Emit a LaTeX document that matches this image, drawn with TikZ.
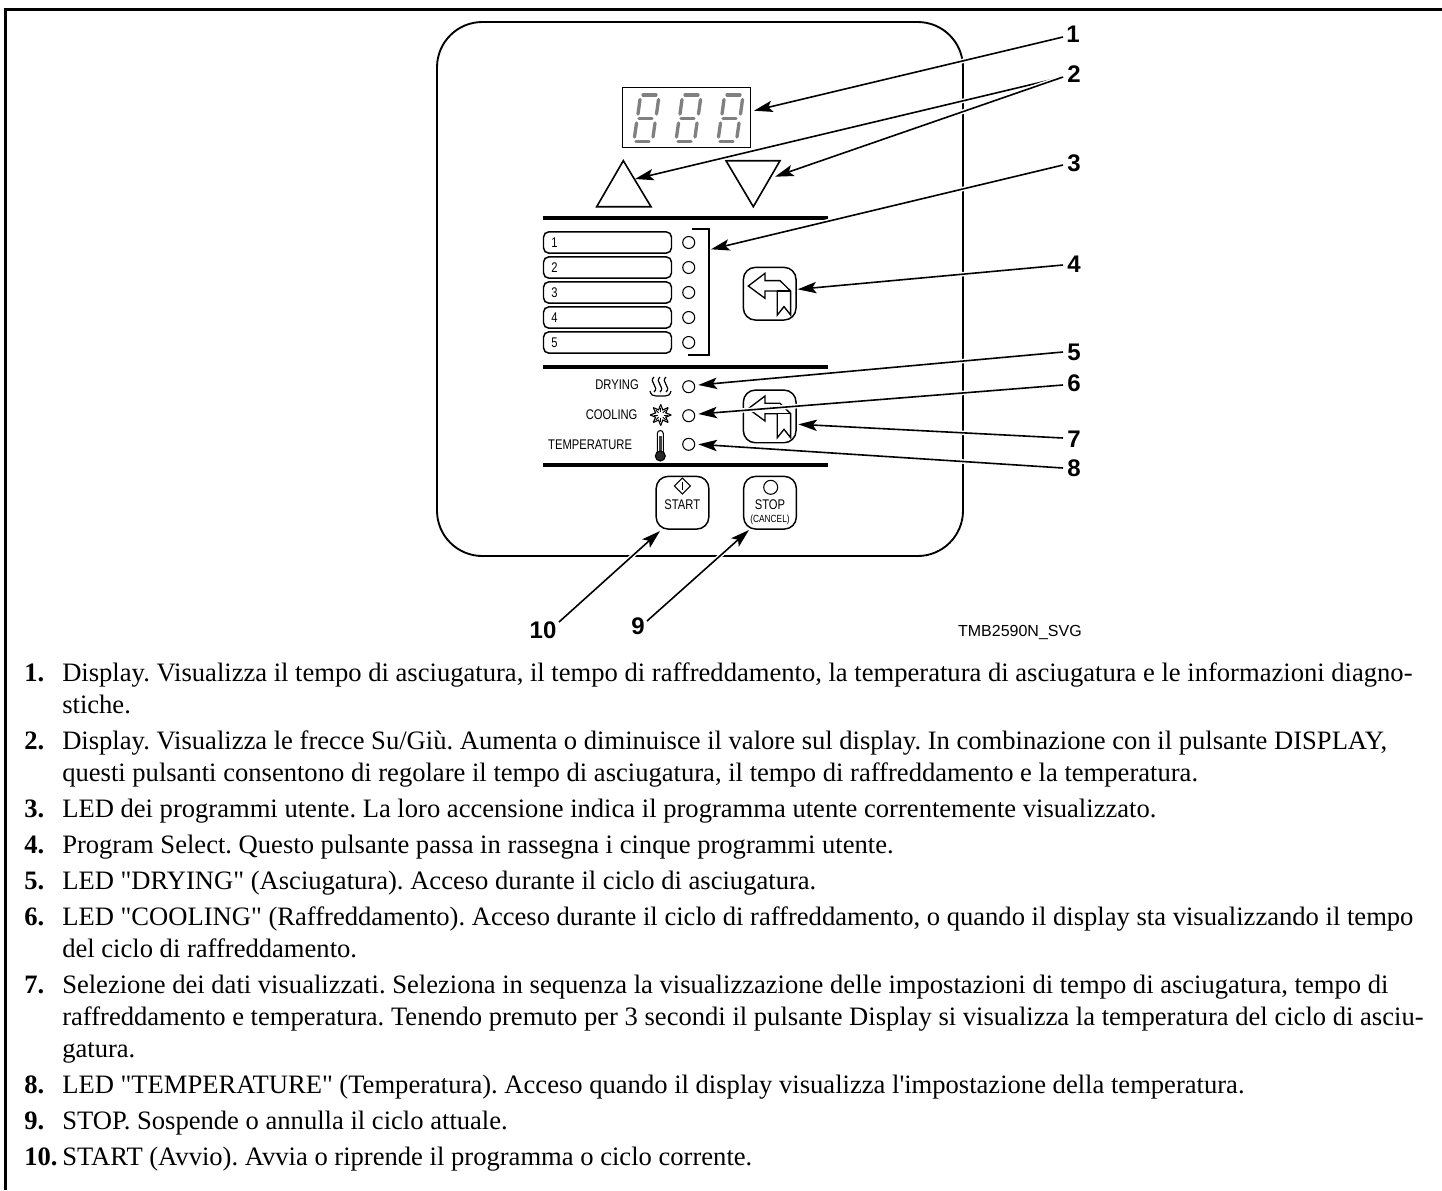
\documentclass[tikz,border=0pt]{standalone}
\usepackage{fontspec}
\usetikzlibrary{arrows.meta,shapes.geometric}
\newfontfamily\bodyf{Liberation Serif}
\newfontfamily\narrowf[FakeStretch=0.8]{Liberation Sans}
\newfontfamily\sansf{Liberation Sans}
\definecolor{seggray}{HTML}{808080}
\tikzset{
  bodytext/.style={anchor=base west,inner sep=0pt,font=\frenchspacing\bodyf\fontsize{19.94}{24}\selectfont},
  bodynum/.style={anchor=base west,inner sep=0pt,font=\frenchspacing\bodyf\bfseries\fontsize{19.94}{24}\selectfont},
  panelsmall/.style={inner sep=0pt,font=\narrowf\fontsize{10.5}{12}\selectfont},
  callout/.style={inner sep=0pt,anchor=west,font=\sansf\bfseries\fontsize{18}{20}\selectfont},
  pillbox/.style={draw,line width=1.1pt,rounded corners=4pt,minimum width=96pt,minimum height=16pt,inner sep=0pt},
  ledc/.style={draw,circle,line width=0.8pt,minimum size=9pt,inner sep=0pt},
  keybox/.style={draw,line width=1.1pt,rounded corners=9pt,minimum width=39.5pt,minimum height=39.5pt,inner sep=0pt},
  thickbar/.style={line width=3pt},
  thinl/.style={line width=0.8pt},
  tri/.style={line width=1.2pt,line join=miter},
  seg/.style={seggray,line width=2.5pt,line cap=round},
  leader/.style={line width=1.2pt,-{Stealth[length=14pt,width=8.5pt,inset=3pt]},
    preaction={draw=white,line width=3.4pt,arrows=-,shorten >=15pt}},
}
\newcommand{\sevenseg}[1]{%
  \begin{scope}[xshift=#1*0.75pt]
    \draw[seg] (14,95)--(27,95);
    \draw[seg] (11,99.5)--(9,114);
    \draw[seg] (29.5,99.5)--(27.5,114);
    \draw[seg] (10,118.5)--(23,118.5);
    \draw[seg] (7.5,123)--(5.5,137);
    \draw[seg] (26,123)--(24,137);
    \draw[seg] (7,141.5)--(20,141.5);
  \end{scope}}
\newcommand{\bookicon}[2]{%
  \begin{scope}[shift={(#1,#2)}]
    \draw[line width=1pt,line join=miter] (5,18.7)--(21.7,6)--(21.7,13.3)--(36.7,13.3)--(47.3,23.7)--(47.3,47.7)--(40.7,39.3)--(34,47.7)--(34,23.7)--(21.7,23.7)--(21.7,31)--cycle;
    \draw[line width=1pt] (34,23.7)--(47.3,23.7);
  \end{scope}}
\begin{document}
\begin{tikzpicture}[x=0.75pt,y=-0.75pt]
\useasboundingbox (0,0) rectangle (1442,1190);
% outer frame
\draw[line width=2.4pt] (5.6,1190)--(5.6,9.4)--(1442,9.4);
% panel
\draw[line width=1.4pt,rounded corners=34pt] (437,22) rectangle (963,556);
% display
\node[draw,line width=0.9pt,minimum width=96.5pt,minimum height=45.5pt,inner sep=0pt] (disp) at (686.5,117.5) {};
\sevenseg{629}\sevenseg{671}\sevenseg{713}
% triangles
\draw[tri] (623.3,160.7)--(651,206.7)--(596.7,206.7)--cycle;
\draw[tri] (726,160.7)--(780,160.7)--(753.3,206.7)--cycle;
% bars
\draw[thickbar] (543,218.3)--(828,218.3);
\draw[thickbar] (543,367)--(828,367);
\draw[thickbar] (543,465)--(828,465);
% program rows
\foreach \n/\yy in {1/242.5,2/267.5,3/292.5,4/317.5,5/342.5}{
  \node[pillbox] (pill\n) at (607.5,\yy) {};
  \node[panelsmall] (pilltxt\n) at (554.5,\yy) {\n};
  \node[ledc] (led\n) at (688.7,\yy) {};
}
\draw[thinl] (692,229)--(709,229)--(709,355)--(688,355);
% key 4 and 7
\node[keybox] (key4) at (769.7,293.7) {};
\bookicon{743.3}{267.3}
\node[keybox] (key7) at (769.7,416.4) {};
\bookicon{743.3}{390}
% status rows
\node[panelsmall,anchor=east] (tdry) at (639,385) {DRYING};
\node[panelsmall,anchor=east] (tcool) at (637.7,415) {COOLING};
\node[panelsmall,anchor=east] (ttemp) at (632.3,445) {TEMPERATURE};
\node[ledc] (ledd) at (688.7,386.7) {};
\node[ledc] (ledc) at (688.7,415.7) {};
\node[ledc] (ledt) at (688.7,444.3) {};
% heat icon
\foreach \xx in {654,660,666}{
  \draw[line width=0.9pt] (\xx,377) .. controls (\xx-6,382) and (\xx+6,387) .. (\xx,392);
}
\draw[line width=0.9pt] (650,391) .. controls (651,395) and (653,396) .. (656,396) -- (665,396) .. controls (668,396) and (670,395) .. (671,391);
% snow icon
\begin{scope}[shift={(660.7,415)}]
\foreach \a in {0,45,...,315}{
  \draw[line width=0.85pt] (\a:10.5) -- (\a+22.5:5.5) -- (\a+45:10.5);
  \draw[line width=0.7pt] (\a:3) -- (\a:7);
}
\end{scope}
% thermometer
\draw[line width=0.8pt,fill=white] (657.3,453)--(657.3,433.5) arc[start angle=180,end angle=360,radius=3] --(663.3,453);
\fill[black!75] (658.8,436) rectangle (661.8,453);
\draw[line width=0.8pt,fill=black!85] (660.3,456) circle (5);
% start/stop
\node[keybox] (start) at (682.5,502.7) {};
\node[keybox] (stop) at (770,502.7) {};
\draw[line width=0.8pt] (682.3,478)--(690.3,486)--(682.3,494)--(674.3,486)--cycle;
\draw[line width=0.8pt] (682.3,482)--(682.3,490);
\node[panelsmall] (starttxt) at (682.3,505) {START};
\draw[line width=0.8pt] (770.7,487.3) circle (7);
\node[panelsmall] (stoptxt) at (770,505) {STOP};
\node[inner sep=0pt,font=\narrowf\fontsize{7.8}{9}\selectfont] (canceltxt) at (770,519.3) {(CANCEL)};
% callouts
\node[callout] (c1) at (1066,34) {1};
\node[callout] (c2) at (1067,74.5) {2};
\node[callout] (c3) at (1067,163) {3};
\node[callout] (c4) at (1067,264) {4};
\node[callout] (c5) at (1067,352) {5};
\node[callout] (c6) at (1067,383) {6};
\node[callout] (c7) at (1067,439) {7};
\node[callout] (c8) at (1067,468) {8};
\node[callout,anchor=center] (c10) at (543,630) {10};
\node[callout,anchor=center] (c9) at (638,626.5) {9};
\node[inner sep=0pt,anchor=east,font=\sansf\fontsize{12}{14}\selectfont] (tmb) at (1082,632) {TMB2590N\_SVG};
% target and end coordinates
\coordinate (a1) at (754,110.7);
\coordinate (a2u) at (635,179);
\coordinate (a2d) at (775,176.7);
\coordinate (a3) at (711,249.3);
\coordinate (a4) at (797.7,289.3);
\coordinate (a5) at (698.3,385);
\coordinate (a6) at (698.3,414);
\coordinate (a7) at (798.3,424.3);
\coordinate (a8) at (698.3,444.3);
\coordinate (a9) at (749,530);
\coordinate (a10) at (660,531);
\coordinate (s1) at (1063,37);
\coordinate (s2) at (1063,77);
\coordinate (s3) at (1063,165);
\coordinate (s4) at (1063,265);
\coordinate (s5) at (1063,352);
\coordinate (s6) at (1063,385);
\coordinate (s7) at (1063,438);
\coordinate (s8) at (1063,468);
\coordinate (s9) at (647,621);
\coordinate (s10) at (559,622);
\draw[leader] (s1)--(a1);
\draw[leader] (s2)--(a2u);
\draw[leader] (s2)--(a2d);
\draw[leader] (s3)--(a3);
\draw[leader] (s4)--(a4);
\draw[leader] (s5)--(a5);
\draw[leader] (s6)--(a6);
\draw[leader] (s7)--(a7);
\draw[leader] (s8)--(a8);
\draw[leader] (s9)--(a9);
\draw[leader] (s10)--(a10);
% body text
\node[bodynum] (n1) at (24,681) {1.};
\node[bodytext] (t1a) at (62,681) {Display. Visualizza il tempo di asciugatura, il tempo di raffreddamento, la temperatura di asciugatura e le informazioni diagno-};
\node[bodytext] (t1b) at (62,713) {stiche.};
\node[bodynum] (n2) at (24,749) {2.};
\node[bodytext] (t2a) at (62,749) {Display. Visualizza le frecce Su/Giù. Aumenta o diminuisce il valore sul display. In combinazione con il pulsante DISPLAY,};
\node[bodytext] (t2b) at (62,781) {questi pulsanti consentono di regolare il tempo di asciugatura, il tempo di raffreddamento e la temperatura.};
\node[bodynum] (n3) at (24,817) {3.};
\node[bodytext] (t3) at (62,817) {LED dei programmi utente. La loro accensione indica il programma utente correntemente visualizzato.};
\node[bodynum] (n4) at (24,853) {4.};
\node[bodytext] (t4) at (62,853) {Program Select. Questo pulsante passa in rassegna i cinque programmi utente.};
\node[bodynum] (n5) at (24,889) {5.};
\node[bodytext] (t5) at (62,889) {LED "DRYING" (Asciugatura). Acceso durante il ciclo di asciugatura.};
\node[bodynum] (n6) at (24,925) {6.};
\node[bodytext] (t6a) at (62,925) {LED "COOLING" (Raffreddamento). Acceso durante il ciclo di raffreddamento, o quando il display sta visualizzando il tempo};
\node[bodytext] (t6b) at (62,957) {del ciclo di raffreddamento.};
\node[bodynum] (n7) at (24,993) {7.};
\node[bodytext] (t7a) at (62,993) {Selezione dei dati visualizzati. Seleziona in sequenza la visualizzazione delle impostazioni di tempo di asciugatura, tempo di};
\node[bodytext] (t7b) at (62,1025) {raffreddamento e temperatura. Tenendo premuto per 3 secondi il pulsante Display si visualizza la temperatura del ciclo di asciu-};
\node[bodytext] (t7c) at (62,1057) {gatura.};
\node[bodynum] (n8) at (24,1093) {8.};
\node[bodytext] (t8) at (62,1093) {LED "TEMPERATURE" (Temperatura). Acceso quando il display visualizza l'impostazione della temperatura.};
\node[bodynum] (n9) at (24,1129) {9.};
\node[bodytext] (t9) at (62,1129) {STOP. Sospende o annulla il ciclo attuale.};
\node[bodynum] (n10) at (24,1165) {10.};
\node[bodytext] (t10) at (62,1165) {START (Avvio). Avvia o riprende il programma o ciclo corrente.};
\end{tikzpicture}
\end{document}
